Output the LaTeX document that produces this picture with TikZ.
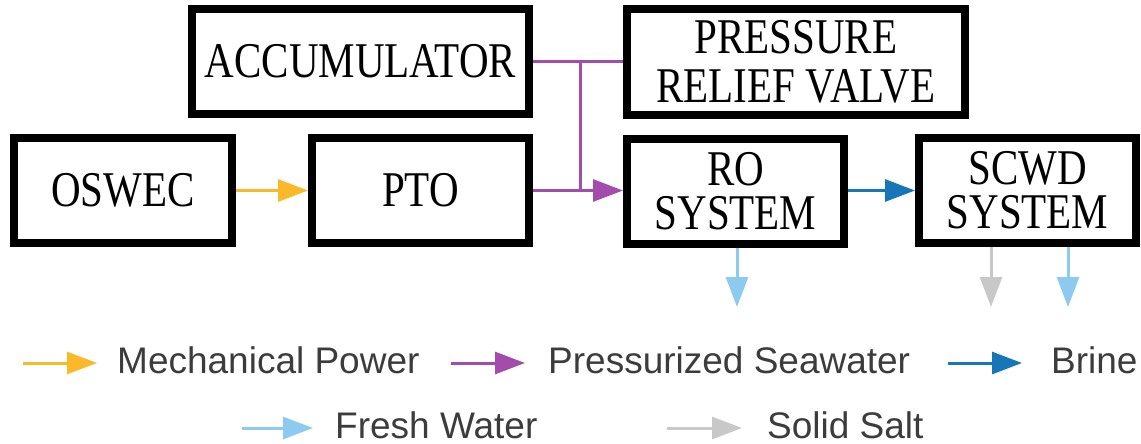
\documentclass[tikz,border=0pt]{standalone}
\usepackage{fontspec}
\setmainfont[FakeStretch=0.82]{Liberation Serif}
\newfontfamily\legendfont{Liberation Sans}
\usetikzlibrary{arrows.meta}

\definecolor{powerc}{RGB}{250,185,40}
\definecolor{seac}{RGB}{162,76,172}
\definecolor{brinec}{RGB}{22,118,184}
\definecolor{freshc}{RGB}{140,202,240}
\definecolor{saltc}{RGB}{200,200,200}
\definecolor{legendtext}{RGB}{60,60,60}

\tikzset{
  block/.style={draw=black, line width=8pt, minimum width=217pt, minimum height=105pt,
    inner sep=0pt, align=center, text=black, font=\fontsize{50}{44}\selectfont},
  pipe/.style={line width=3pt},
  flow/.style={line width=3pt, -{Triangle[length=30pt,width=22pt]}},
  legend/.style={anchor=base west, inner sep=0pt, text=legendtext,
    font=\legendfont\fontsize{37}{40}\selectfont},
}

\begin{document}
\begin{tikzpicture}[x=1pt, y=-1pt]
  \useasboundingbox (0,0) rectangle (1141,444);

  % process blocks
  \node[block, minimum width=337pt] (acc) at (360.5,61.5) {ACCUMULATOR};
  \node[block, minimum width=338pt, minimum height=106pt,
        font=\fontsize{50}{49}\selectfont] (prv) at (796,62) {PRESSURE\\RELIEF VALVE};
  \node[block, minimum width=218pt] (oswec) at (123,190.5) {OSWEC};
  \node[block] (pto) at (420.5,190.5) {PTO};
  \node[block] (ro) at (735.5,191.5) {RO\\SYSTEM};
  \node[block] (scwd) at (1027.5,190.5) {SCWD\\SYSTEM};

  % mechanical power
  \draw[flow, color=powerc] (oswec.east) -- (pto.west);

  % pressurized seawater network
  \coordinate (tee) at (580,61.5);
  \draw[pipe, color=seac] (acc.east) -- (prv.west |- acc.east);
  \draw[pipe, color=seac] (tee) -- (tee |- pto.east);
  \draw[flow, color=seac] (pto.east) -- (ro.west |- pto.east);

  % brine
  \draw[flow, color=brinec] (ro.east |- scwd.west) -- (scwd.west);

  % products
  \coordinate (roout) at (737,307);
  \coordinate (saltout) at (991,307);
  \coordinate (waterout) at (1068,307);
  \draw[flow, color=freshc] (roout |- ro.south) -- (roout);
  \draw[flow, color=saltc] (saltout |- scwd.south) -- (saltout);
  \draw[flow, color=freshc] (waterout |- scwd.south) -- (waterout);

  % legend
  \coordinate (k1a) at (23,363);  \coordinate (k1b) at (97,363);
  \coordinate (k2a) at (451,363); \coordinate (k2b) at (525,363);
  \coordinate (k3a) at (948,363); \coordinate (k3b) at (1022,363);
  \coordinate (k4a) at (242,428); \coordinate (k4b) at (313,428);
  \coordinate (k5a) at (667,428); \coordinate (k5b) at (742,428);
  \draw[flow, color=powerc] (k1a) -- (k1b);
  \draw[flow, color=seac]   (k2a) -- (k2b);
  \draw[flow, color=brinec] (k3a) -- (k3b);
  \draw[flow, color=freshc] (k4a) -- (k4b);
  \draw[flow, color=saltc]  (k5a) -- (k5b);
  \node[legend] (t1) at (117,373) {Mechanical Power};
  \node[legend] (t2) at (548,373) {Pressurized Seawater};
  \node[legend] (t3) at (1051,373) {Brine};
  \node[legend] (t4) at (335,438) {Fresh Water};
  \node[legend] (t5) at (767,438) {Solid Salt};
\end{tikzpicture}
\end{document}
